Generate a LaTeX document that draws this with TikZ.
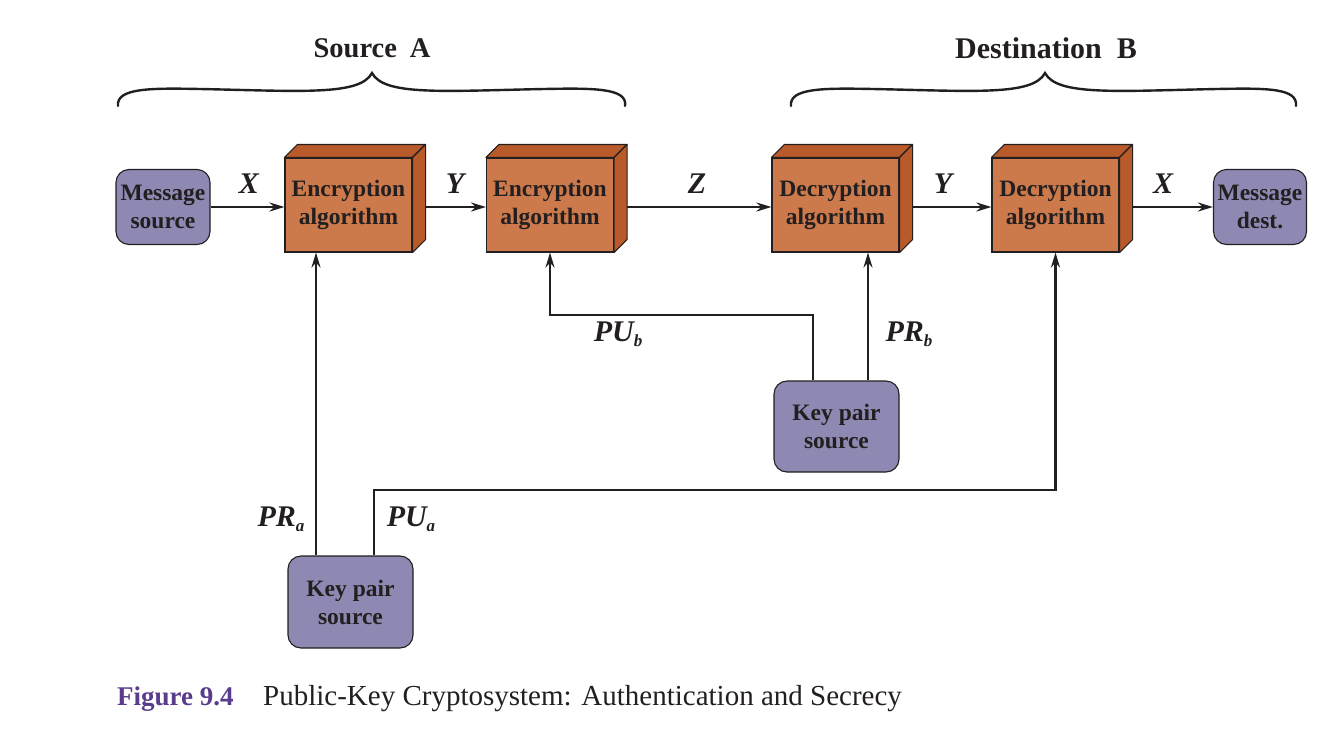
\documentclass[tikz,border=0pt]{standalone}
\usepackage{fontspec}
\setmainfont{Liberation Serif}
\usetikzlibrary{arrows.meta}
\definecolor{orF}{RGB}{204,121,75}
\definecolor{orD}{RGB}{184,90,42}
\definecolor{pur}{RGB}{142,137,178}
\definecolor{capc}{RGB}{90,60,140}
\definecolor{ink}{RGB}{35,31,32}
\newcommand\drawcubesides[1]{%
  \draw[cubeedge] (#1.north west) -- ++(13,-13) -- ([shift={(13,-13)}]#1.north east) -- (#1.north east) -- cycle;
  \draw[cubeedge] (#1.north east) -- ([shift={(13,-13)}]#1.north east) -- ([shift={(13,-13)}]#1.south east) -- (#1.south east) -- cycle;
}
\begin{document}
\begin{tikzpicture}[x=1pt,y=-1pt,
  cubefront/.style={draw=ink,line width=1.1pt,fill=orF,minimum width=127pt,minimum height=94pt,inner sep=0pt,align=center,text=ink,font=\fontsize{23.5}{28}\selectfont\bfseries},
  cubeedge/.style={draw=ink,line width=1.1pt,fill=orD,line join=round},
  rbox/.style={draw=ink,line width=1.1pt,fill=pur,rounded corners=13pt,inner sep=0pt,align=center,text=ink,font=\fontsize{23.5}{28}\selectfont\bfseries},
  conn/.style={line width=2.4pt,draw=ink},
  arr/.style={conn,-{Stealth[length=15pt,width=9pt]}},
  lbl/.style={text=ink,font=\fontsize{30}{30}\selectfont\bfseries\itshape},
  brace/.style={draw=ink,line width=2.4pt,line cap=round}
]
\useasboundingbox (0,0) rectangle (1336,753);

% titles and braces
\node[text=ink,font=\fontsize{28.5}{28}\selectfont\bfseries] (srcA) at (372,48) {Source\hspace{0.45em}A};
\node[text=ink,font=\fontsize{30}{28}\selectfont\bfseries] (dstB) at (1046,48) {Destination\hspace{0.5em}B};
\draw[brace] (118,106) .. controls (116,88) and (150,88) .. (200,89) .. controls (300,91) and (360,96) .. (372,73)
  .. controls (384,96) and (444,91) .. (544,89) .. controls (594,88) and (628,88) .. (625,106);
\draw[brace] (791,106) .. controls (789,88) and (823,88) .. (873,89) .. controls (973,91) and (1033,96) .. (1045,73)
  .. controls (1057,96) and (1117,91) .. (1217,89) .. controls (1267,88) and (1298,88) .. (1296,106);

% nodes
\node[rbox,minimum width=94pt,minimum height=75pt] (msrc) at (163,207) {Message\\source};
\node[cubefront] (enc1) at (348.5,205) {Encryption\\algorithm};
\node[cubefront] (enc2) at (550,205) {Encryption\\algorithm};
\node[cubefront] (dec1) at (835.5,205) {Decryption\\algorithm};
\node[cubefront] (dec2) at (1055.5,205) {Decryption\\algorithm};
\node[rbox,minimum width=93pt,minimum height=75pt] (mdst) at (1260,207) {Message\\dest.};
\node[rbox,minimum width=125pt,minimum height=91pt] (keyB) at (836.5,426.5) {Key pair\\source};
\node[rbox,minimum width=125pt,minimum height=92pt] (keyA) at (350.5,602) {Key pair\\source};

% horizontal connectors
\draw[arr] (msrc.east |- 0,207) -- (enc1.west |- 0,207);
\draw[arr] (enc1.east |- 0,207) -- (enc2.west |- 0,207);
\draw[arr] (enc2.east |- 0,207) -- (dec1.west |- 0,207);
\draw[arr] (dec1.east |- 0,207) -- (dec2.west |- 0,207);
\draw[arr] (dec2.east |- 0,207) -- (mdst.west |- 0,207);

% key connectors
\coordinate (pubturn) at (813,315);
\coordinate (prb) at (868,0);
\coordinate (pra) at (316,0);
\coordinate (puaturn) at (374,490);
\draw[arr] (keyB.north -| pubturn) -- (pubturn) -| (enc2.south);
\draw[arr] (keyB.north -| prb) -- (dec1.south -| prb);
\draw[arr] (keyA.north -| pra) -- (enc1.south -| pra);
\draw[arr] (keyA.north -| puaturn) -- (puaturn) -| (dec2.south);

% cube sides drawn over connector starts
\drawcubesides{enc1}
\drawcubesides{enc2}
\drawcubesides{dec1}
\drawcubesides{dec2}

% labels
\node[lbl] (lx1) at (249,184) {X};
\node[lbl] (ly1) at (455,184) {Y};
\node[lbl] (lz) at (697,184) {Z};
\node[lbl] (ly2) at (943,184) {Y};
\node[lbl] (lx2) at (1163,184) {X};
\node[lbl] (lpub) at (618,334) {PU\raisebox{-0.35ex}{\fontsize{17}{17}\selectfont b}};
\node[lbl] (lprb) at (909,334) {PR\raisebox{-0.35ex}{\fontsize{17}{17}\selectfont b}};
\node[lbl] (lpra) at (281,519) {PR\raisebox{-0.35ex}{\fontsize{17}{17}\selectfont a}};
\node[lbl] (lpua) at (411,519) {PU\raisebox{-0.35ex}{\fontsize{17}{17}\selectfont a}};

% caption
\node[anchor=base west,inner sep=0pt,text=capc,font=\fontsize{27}{27}\selectfont\bfseries] (fignum) at (117,705) {Figure 9.4};
\node[anchor=base west,inner sep=0pt,text=ink,font=\fontsize{29}{29}\selectfont] (captext) at (263,705) {Public-Key Cryptosystem: Authentication and Secrecy};
\end{tikzpicture}
\end{document}
